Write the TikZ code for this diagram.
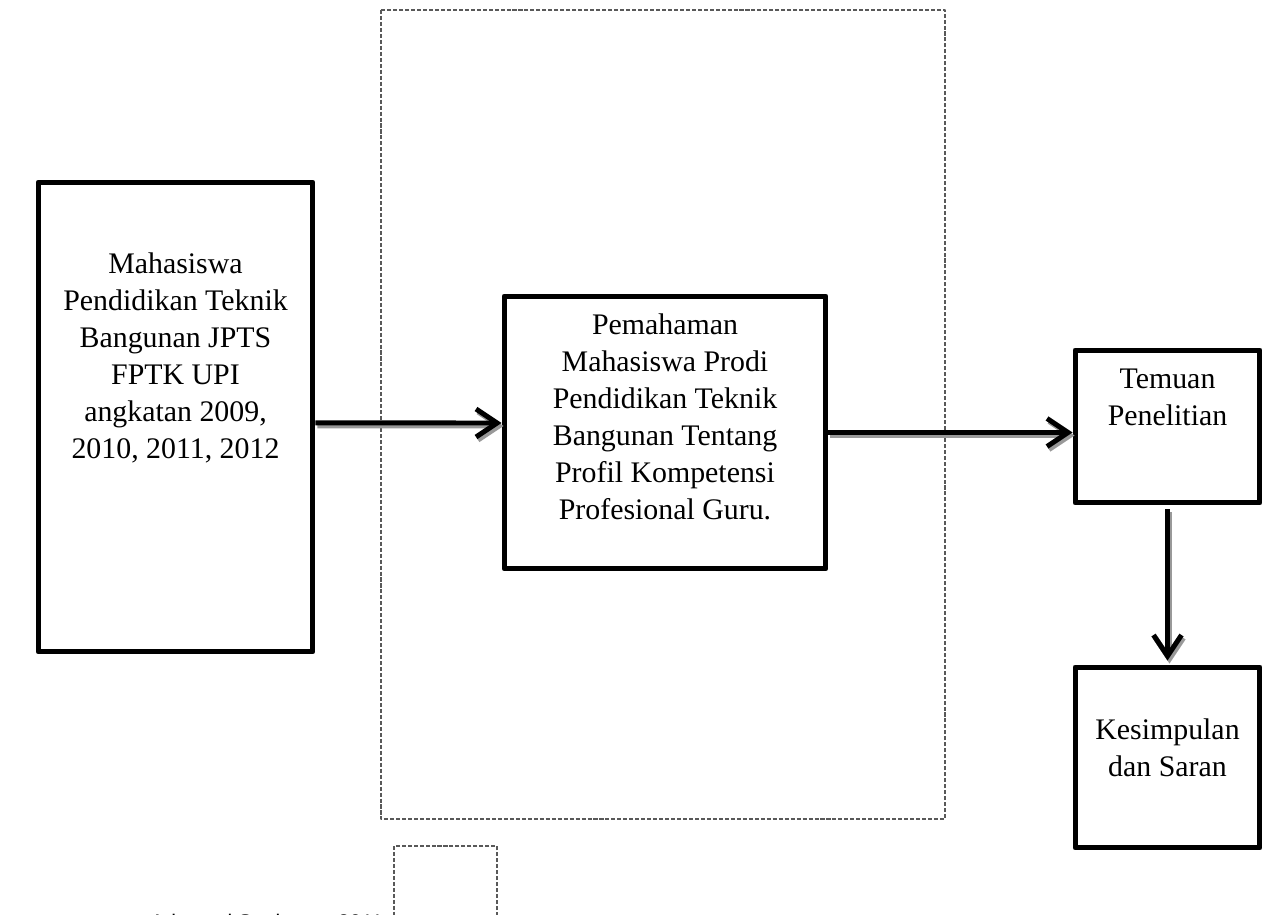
\documentclass[tikz,border=0pt]{standalone}
\usepackage{fontspec}
\setmainfont{Liberation Serif}
\setsansfont{Liberation Sans}
\usetikzlibrary{arrows.meta,positioning}

\begin{document}
\begin{tikzpicture}[
    x = 0.02cm, y = -0.02cm,
    line join=round,
    box/.style = {draw, line width=0.1cm, inner sep=0pt},
    txt/.style = {align=center, font=\fontsize{17}{21}\selectfont, inner sep=0pt},
    frame/.style = {draw=black!65, line width=0.03cm, dash pattern=on 2.3pt off 1.1pt},
    arr/.style = {line width=0.1cm, -{Straight Barb[length=0.42cm,width=0.56cm]}},
    arrshadow/.style = {arr, draw=black!40, transform canvas={shift={(0.04cm,-0.06cm)}}}
]

    \clip (0,0) rectangle (1282,915);

    % kotak putus-putus
    \draw[frame] (381,10) rectangle (945,819);
    \draw[frame] (394,846) rectangle (497,940);

    \node[box, minimum width=5.5cm, minimum height=9.4cm] (mhs) at (175.5,417) {};
    \node[box, minimum width=6.44cm, minimum height=5.46cm] (paham) at (665,432.5) {};
    \node[box, minimum width=3.7cm, minimum height=3.06cm] (temuan) at (1167.5,426.5) {};
    \node[box, minimum width=3.7cm, minimum height=3.62cm] (simpul) at (1167.5,757.5) {};

    \node[txt] (mhstxt) at (175.5,358)
        {Mahasiswa\\Pendidikan Teknik\\Bangunan JPTS\\FPTK UPI\\angkatan 2009,\\2010, 2011, 2012};
    \node[txt] (pahamtxt) at (665,417)
        {Pemahaman\\Mahasiswa Prodi\\Pendidikan Teknik\\Bangunan Tentang\\Profil Kompetensi\\Profesional Guru.};
    \node[txt] (temuantxt) at (1167.5,397) {Temuan\\Penelitian};
    \node[txt] (simpultxt) at (1167.5,748) {Kesimpulan\\dan Saran};

    \node[anchor=base west, inner sep=0pt, font=\sffamily\fontsize{12}{14}\selectfont] (sumber)
        at (150,929) {Adaptasi Sugiyono, 2011};

    \draw[arrshadow] ([yshift=-0.12cm]mhs.east) -- ([yshift=0.19cm]paham.west);
    \draw[arr] ([yshift=-0.12cm]mhs.east) -- ([yshift=0.19cm]paham.west);
    \draw[arrshadow] (paham.east) -- (temuan.west |- paham.east);
    \draw[arr] (paham.east) -- (temuan.west |- paham.east);
    \draw[arrshadow, shorten <=0.08cm, shorten >=0.08cm] (temuan.south) -- (simpul.north);
    \draw[arr, shorten <=0.08cm, shorten >=0.08cm] (temuan.south) -- (simpul.north);

\end{tikzpicture}
\end{document}
